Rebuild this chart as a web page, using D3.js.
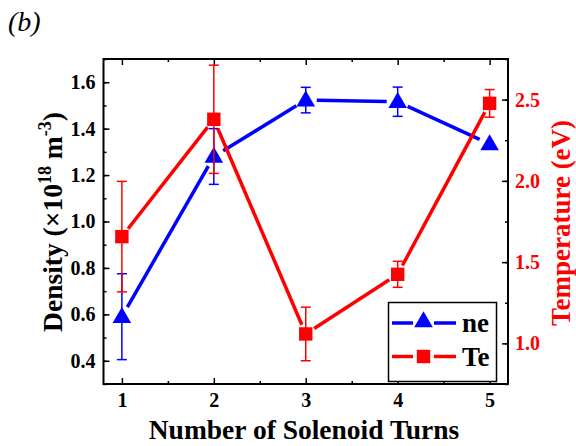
<html>
<head>
<script src="https://d3js.org/d3.v7.min.js"></script>
<style>
  body { margin: 0; background: #fff; }
</style>
</head>
<body>
<svg id="chart" width="576" height="446"></svg>
<script>
// data
const turns = [1, 2, 3, 4, 5];
const ne = [0.59, 1.28, 1.523, 1.516, 1.334];
const neErr = [0.185, 0.12, 0.055, 0.063, 0];
const te = [1.657, 2.379, 1.058, 1.425, 2.477];
const teErr = [0.34, 0.333, 0.165, 0.08, 0.085];
const xTicks = [1, 2, 3, 4, 5];
const yTicks = [0.4, 0.6, 0.8, 1.0, 1.2, 1.4, 1.6];
const yrTicks = [1.0, 1.5, 2.0, 2.5];

const FONT = "'Liberation Serif'";
const svg = d3.select("#chart");
const L = 103.5, R = 508, T = 59, B = 384;
const blue = "#0000ff", red = "#ff0000";

var x = d3.scaleLinear().domain([0.8, 5.2]).range([L, R]);
var y = d3.scaleLinear().domain([0.3, 1.7]).range([B, T]);
var yr = d3.scaleLinear().domain([0.75, 2.75]).range([B, T]);

// minor ticks
var xMinor = d3.range(1.5, 5, 1);
var yMinor = d3.range(0.3, 1.71, 0.1);
var yrMinor = d3.range(0.75, 2.76, 0.25);

function minorAxis(axis, ticks, tr) {
  svg.append("g").attr("transform", tr)
    .call(axis.tickValues(ticks).tickSize(-3).tickSizeOuter(0).tickFormat(""))
    .call(s => s.select(".domain").remove())
    .selectAll("line").attr("stroke", "#000").attr("stroke-width", 1.5);
}
minorAxis(d3.axisBottom(x), xMinor, `translate(0,${B})`);
minorAxis(d3.axisTop(x), xMinor, `translate(0,${T})`);
minorAxis(d3.axisLeft(y), yMinor, `translate(${L},0)`);
minorAxis(d3.axisRight(yr), yrMinor, `translate(${R},0)`);

function styleAxis(g, col) {
  g.select(".domain").remove();
  g.selectAll("line").attr("stroke", "#000").attr("stroke-width", 1.5);
  g.selectAll("text").attr("fill", col).attr("font-size", "20px")
    .attr("font-weight", "bold").style("font-family", FONT);
}

svg.append("g").attr("transform", `translate(0,${B})`)
  .call(d3.axisBottom(x).tickValues(xTicks).tickSize(-6).tickSizeOuter(0).tickPadding(9).tickFormat(d3.format("d")))
  .call(g => styleAxis(g, "#000"));
svg.append("g").attr("transform", `translate(0,${T})`)
  .call(d3.axisTop(x).tickValues(xTicks).tickSize(-6).tickSizeOuter(0).tickFormat(""))
  .call(g => styleAxis(g, "#000"));
svg.append("g").attr("transform", `translate(${L},0)`)
  .call(d3.axisLeft(y).tickValues(yTicks).tickSize(-6).tickSizeOuter(0).tickPadding(8).tickFormat(d3.format(".1f")))
  .call(g => styleAxis(g, "#000"));
svg.append("g").attr("transform", `translate(${R},0)`)
  .call(d3.axisRight(yr).tickValues(yrTicks).tickSize(-6).tickSizeOuter(0).tickPadding(7).tickFormat(d3.format(".1f")))
  .call(g => styleAxis(g, red));

// frame
svg.append("rect").attr("x", L).attr("y", T).attr("width", R - L).attr("height", B - T)
  .attr("fill", "none").attr("stroke", "#000").attr("stroke-width", 2);

// connecting lines with gaps near markers
function gapLines(vals, sy, col, gap) {
  var pts = vals.map((v, i) => [x(turns[i]), sy(v)]);
  for (var i = 0; i < pts.length - 1; i++) {
    var [x1, y1] = pts[i], [x2, y2] = pts[i + 1];
    var d = Math.hypot(x2 - x1, y2 - y1), ux = (x2 - x1) / d, uy = (y2 - y1) / d;
    svg.append("line")
      .attr("x1", x1 + ux * gap).attr("y1", y1 + uy * gap)
      .attr("x2", x2 - ux * gap).attr("y2", y2 - uy * gap)
      .attr("stroke", col).attr("stroke-width", 3.5);
  }
}

function errorBars(vals, errs, sy, col) {
  var g = svg.append("g").attr("stroke", col).attr("stroke-width", 1.5);
  vals.forEach(function(v, i) {
    if (!errs[i]) return;
    var cx = x(turns[i]);
    g.append("line").attr("x1", cx).attr("x2", cx).attr("y1", sy(v - errs[i])).attr("y2", sy(v + errs[i]));
    [v - errs[i], v + errs[i]].forEach(function(e) {
      g.append("line").attr("x1", cx - 5).attr("x2", cx + 5).attr("y1", sy(e)).attr("y2", sy(e));
    });
  });
}

var tri = d3.symbol().type(d3.symbolTriangle).size(150);
var sq = d3.symbol().type(d3.symbolSquare).size(180);

// ne series
errorBars(ne, neErr, y, blue);
gapLines(ne, y, blue, 11);
svg.append("g").selectAll("path").data(ne).enter().append("path")
  .attr("d", tri)
  .attr("transform", (d, i) => `translate(${x(turns[i])},${y(d) + 1})`)
  .attr("fill", blue);

// Te series
errorBars(te, teErr, yr, red);
gapLines(te, yr, red, 10);
svg.append("g").selectAll("path").data(te).enter().append("path")
  .attr("d", sq)
  .attr("transform", (d, i) => `translate(${x(turns[i])},${yr(d)})`)
  .attr("fill", red);

// legend
var lg = svg.append("g");
lg.append("rect").attr("x", 388.5).attr("y", 302.5).attr("width", 108).attr("height", 79)
  .attr("fill", "#fff").attr("stroke", "#000").attr("stroke-width", 1.5);
[[323, blue, tri, "ne"], [356.5, red, sq, "Te"]].forEach(function(r) {
  lg.append("line").attr("x1", 392).attr("x2", 413).attr("y1", r[0]).attr("y2", r[0]).attr("stroke", r[1]).attr("stroke-width", 3.5);
  lg.append("line").attr("x1", 434).attr("x2", 456).attr("y1", r[0]).attr("y2", r[0]).attr("stroke", r[1]).attr("stroke-width", 3.5);
  lg.append("path").attr("d", r[2]).attr("fill", r[1])
    .attr("transform", `translate(423.5,${r[0] + (r[3] == "ne" ? -1 : 0)})`);
  lg.append("text").attr("x", 462).attr("y", r[0] + 9).attr("font-size", "27px")
    .attr("font-weight", "bold").style("font-family", FONT).text(r[3]);
});

// axis titles
svg.append("text").attr("x", 304).attr("y", 439).attr("text-anchor", "middle")
  .attr("font-size", "27.5px").attr("font-weight", "bold").style("font-family", FONT)
  .text("Number of Solenoid Turns");

var yt = svg.append("text").attr("transform", `translate(62,222) rotate(-90)`)
  .attr("text-anchor", "middle").attr("font-size", "27.5px").attr("font-weight", "bold")
  .style("font-family", FONT);
yt.append("tspan").text("Density (\u00d710");
yt.append("tspan").attr("font-size", "18px").attr("dy", -11).text("18");
yt.append("tspan").attr("dy", 11).text(" m");
yt.append("tspan").attr("font-size", "18px").attr("dy", -11).text("-3");
yt.append("tspan").attr("dy", 11).text(")");

svg.append("text").attr("transform", `translate(570,223) rotate(-90)`)
  .attr("text-anchor", "middle").attr("font-size", "27px").attr("font-weight", "bold")
  .style("font-family", FONT).attr("fill", red).text("Temperature (eV)");

// panel label
svg.append("text").attr("x", 8).attr("y", 31).attr("font-size", "28px")
  .attr("font-style", "italic").style("font-family", FONT).text("(b)");
</script>
</body>
</html>
